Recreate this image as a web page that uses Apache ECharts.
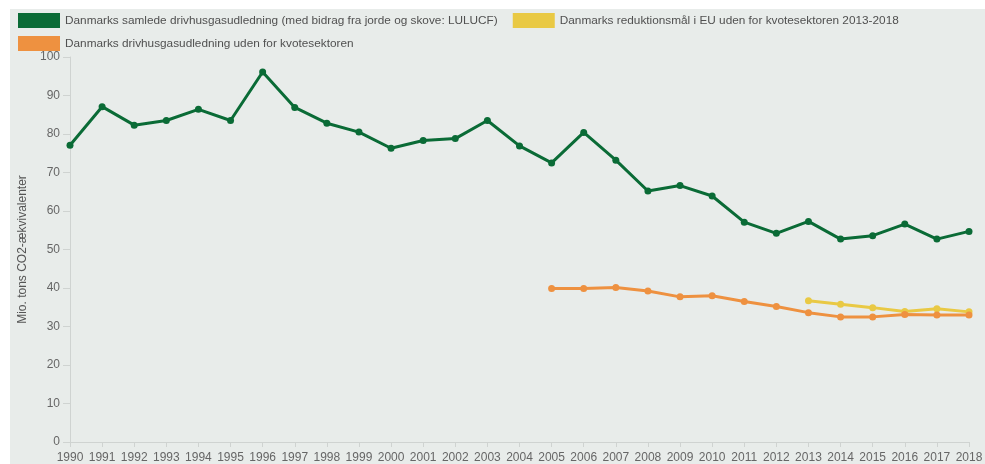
<!DOCTYPE html>
<html><head><meta charset="utf-8">
<script src="https://cdn.jsdelivr.net/npm/echarts@6/dist/echarts.min.js"></script>
<style>
html,body{margin:0;padding:0;background:#fff;}
#wrap{position:absolute;left:10px;top:9px;width:975px;height:455px;background:#e8ecea;}
#c{width:975px;height:455px;}
</style></head><body>
<div id="wrap"><div id="c"></div></div>
<script>
const years = ['1990','1991','1992','1993','1994','1995','1996','1997','1998','1999','2000','2001','2002','2003','2004','2005','2006','2007','2008','2009','2010','2011','2012','2013','2014','2015','2016','2017','2018'];
const totalLULUCF = [77.1,87.1,82.3,83.5,86.4,83.5,96.1,86.9,82.8,80.5,76.3,78.3,78.8,83.5,76.9,72.5,80.4,73.2,65.2,66.6,63.9,57.1,54.2,57.3,52.7,53.6,56.6,52.7,54.7];
const nonEts = [null,null,null,null,null,null,null,null,null,null,null,null,null,null,null,39.9,39.9,40.1,39.2,37.7,38.0,36.5,35.2,33.6,32.5,32.5,33.1,33.0,33.0];
const euTarget = [null,null,null,null,null,null,null,null,null,null,null,null,null,null,null,null,null,null,null,null,null,null,null,36.7,35.8,34.9,33.9,34.6,33.8];
const yTicks = [0,10,20,30,40,50,60,70,80,90,100];

const nGreen = 'Danmarks samlede drivhusgasudledning (med bidrag fra jorde og skove: LULUCF)';
const nYellow = 'Danmarks reduktionsmål i EU uden for kvotesektoren 2013-2018';
const nOrange = 'Danmarks drivhusgasudledning uden for kvotesektoren';
const cGreen = '#0a6b36', cYellow = '#e9c944', cOrange = '#ee9140';

const chart = echarts.init(document.getElementById('c'));
const legendBase = {
  itemWidth: 42, itemHeight: 15, itemGap: 15, icon: 'rect', padding: 0,
  textStyle: {fontFamily: 'Liberation Sans, Arial', fontSize: 11.8, color: '#505050'},
  selectedMode: false
};
const lineSeries = (name, data, color) => ({
  name, type: 'line', data, connectNulls: false,
  symbol: 'circle', symbolSize: 7,
  lineStyle: {width: 3, color}, itemStyle: {color},
  emphasis: {disabled: true}
});
chart.setOption({
  animation: false,
  textStyle: {fontFamily: 'Liberation Sans, Arial'},
  legend: [
    Object.assign({left: 8, top: 4, data: [nGreen, nYellow]}, legendBase),
    Object.assign({left: 8, top: 27, data: [nOrange]}, legendBase)
  ],
  grid: {left: 60, right: 16, top: 48, bottom: 22, containLabel: false, outerBoundsMode: 'none'},
  xAxis: {
    type: 'category', data: years, boundaryGap: false,
    axisLine: {lineStyle: {color: '#cfd3d1', width: 1}},
    axisTick: {show: true, alignWithLabel: true, length: 5, lineStyle: {color: '#cfd3d1'}},
    axisLabel: {color: '#666', fontSize: 12, margin: 10, interval: 0},
    splitLine: {show: false}
  },
  yAxis: {
    type: 'value', min: yTicks[0], max: yTicks[yTicks.length-1], interval: 10,
    name: 'Mio. tons CO2-ækvivalenter', nameLocation: 'middle', nameGap: 37,
    nameTextStyle: {color: '#555', fontSize: 12},
    axisLine: {show: true, lineStyle: {color: '#cfd3d1'}},
    axisTick: {show: true, length: 7, lineStyle: {color: '#cfd3d1'}},
    axisLabel: {color: '#666', fontSize: 12, margin: 10},
    splitLine: {show: false}
  },
  series: [
    lineSeries(nGreen, totalLULUCF, cGreen),
    lineSeries(nYellow, euTarget, cYellow),
    lineSeries(nOrange, nonEts, cOrange)
  ]
});
</script></body></html>
